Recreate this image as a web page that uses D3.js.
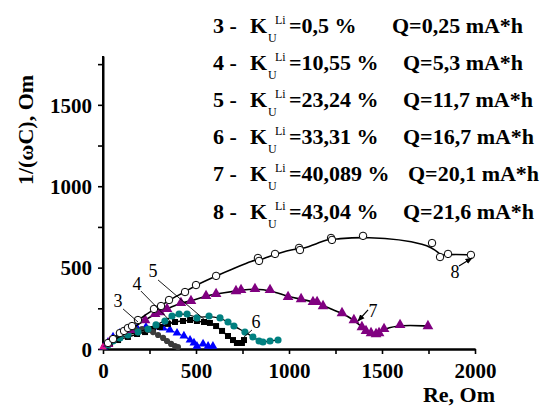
<!DOCTYPE html>
<html>
<head>
<meta charset="utf-8">
<script src="https://cdn.jsdelivr.net/npm/d3@7"></script>
<style>
  body { margin: 0; background: #fff; }
  svg text { font-family: "Liberation Serif", "Times New Roman", serif; }
</style>
</head>
<body>
<div id="chart"></div>
<script>
// ── Data (Re, 1/(ωC)) in Om ──────────────────────────────────
const series3 = [[5,12],[27,37],[59,68],[97,92],[134,111],[172,123],[210,123],[242,117],[269,104],[296,86],[323,68],[344,49],[366,31],[387,18],[403,12]];
const series4 = [[5,12],[27,43],[54,74],[91,98],[134,117],[183,129],[231,135],[280,135],[323,129],[360,117],[398,98],[435,80],[468,55],[489,37],[505,18],[538,31],[565,18],[591,18]];
const series5 = [[16,18],[38,37],[81,55],[134,74],[183,92],[226,104],[269,123],[306,135],[349,154],[387,166],[430,172],[468,178],[505,172],[543,166],[575,160],[608,141],[640,111],[672,80],[699,55],[720,37],[747,37],[758,55]];
const series6 = [[27,25],[54,49],[91,68],[134,86],[188,104],[242,123],[285,148],[333,172],[371,203],[409,215],[452,215],[505,191],[570,203],[629,191],[672,166],[704,141],[763,104],[806,74],[839,49],[860,43],[898,49],[941,55]];
const series7 = [[27,31],[145,117],[226,178],[280,215],[306,227],[344,246],[419,283],[473,295],[554,326],[608,338],[715,356],[742,363],[817,369],[898,363],[995,320],[1065,307],[1129,289],[1151,289],[1183,264],[1285,221],[1349,178],[1392,135],[1414,111],[1441,98],[1468,92],[1484,98],[1511,123],[1597,148],[1747,141]];
const series8 = [[27,37],[54,61],[91,98],[113,111],[134,129],[156,141],[188,178],[274,246],[312,264],[355,301],[441,350],[500,393],[608,449],[833,559],[839,541],[925,584],[1054,621],[1059,608],[1226,682],[1231,670],[1398,695],[1769,651],[1812,565],[1855,584],[1978,578]];
const originPts = [[0,12],[16,25],[27,37],[38,55]];

const xTicks = [0, 500, 1000, 1500, 2000];
const yTicks = [0, 500, 1000, 1500];

const legendNums = ["3", "4", "5", "6", "7", "8"];
const legendK    = ["=0,5 %", "=10,55 %", "=23,24 %", "=33,31 %", "=40,089 %", "=43,04 %"];
const legendQ    = ["Q=0,25 mA*h", "Q=5,3 mA*h", "Q=11,7 mA*h", "Q=16,7 mA*h", "Q=20,1 mA*h", "Q=21,6 mA*h"];

// curve labels: [text, label x, label y, line from, line to, arrow]
const callouts = [
  ["3", 81, 258, [108,246], [188,166], false],
  ["4", 183, 363, [204,356], [382,148], false],
  ["5", 269, 443, [296,424], [548,178], false],
  ["6", 823, 129, [801,117], [753,68], false],
  ["7", 1452, 197, [1425,240], [1371,172], true],
  ["8", 1892, 436, [1914,510], [1984,559], true]
];

// ── Layout ───────────────────────────────────────────────────
const W = 548, H = 406;
const margin = { top: 56, right: 73, bottom: 57, left: 103 };
const iw = W - margin.left - margin.right;
const ih = H - margin.top - margin.bottom;

const svg = d3.select("#chart").append("svg")
  .attr("width", W).attr("height", H);

const defs = svg.append("defs");
defs.append("marker")
  .attr("id", "arrow").attr("viewBox", "0 0 10 10")
  .attr("refX", 9).attr("refY", 5)
  .attr("markerWidth", 6).attr("markerHeight", 6)
  .attr("orient", "auto")
  .append("path").attr("d", "M0,1L10,5L0,9z").attr("fill", "#000");

const g = svg.append("g").attr("transform", `translate(${margin.left},${margin.top})`);

const x = d3.scaleLinear().domain([0, 2000]).range([0, iw]);
const y = d3.scaleLinear().domain([0, 1800]).range([ih, 0]);

// ── Axes ─────────────────────────────────────────────────────
const xAxis = g.append("g").attr("transform", `translate(0,${ih})`);
xAxis.call(d3.axisBottom(x).tickValues(d3.range(0, 2001, 250)).tickFormat("").tickSize(5).tickSizeOuter(0));
xAxis.append("g").call(d3.axisBottom(x).tickValues(xTicks).tickFormat(d3.format("d")).tickSize(0).tickPadding(14).tickSizeOuter(0));

const yAxis = g.append("g");
yAxis.call(d3.axisLeft(y).tickValues(d3.range(0, 1751, 250)).tickFormat("").tickSize(5).tickSizeOuter(0));
yAxis.append("g").call(d3.axisLeft(y).tickValues(yTicks).tickFormat(d3.format("d")).tickSize(0).tickPadding(11).tickSizeOuter(0));

g.selectAll(".domain").attr("stroke", "#000").attr("stroke-width", 2);
g.selectAll(".tick line").attr("stroke", "#000").attr("stroke-width", 1.6);
g.selectAll(".tick text")
  .attr("font-family", "Liberation Serif").attr("font-weight", "bold")
  .attr("font-size", 21).attr("fill", "#000");
yAxis.selectAll(".tick text").attr("dy", "0.35em");
yAxis.select(".domain").attr("d", `M0,${ih}V${y(1800)}`);

svg.append("text")
  .attr("x", 495).attr("y", 402)
  .attr("text-anchor", "end")
  .attr("font-weight", "bold").attr("font-size", 22)
  .text("Re, Om");

svg.append("text")
  .attr("transform", "translate(33,130) rotate(-90)")
  .attr("text-anchor", "middle")
  .attr("font-weight", "bold").attr("font-size", 22)
  .text("1/(ωC), Om");

// ── Series ───────────────────────────────────────────────────
const line = d3.line().x(d => x(d[0])).y(d => y(d[1])).curve(d3.curveBasis);

function drawSeries(data, opt) {
  g.append("path").datum(data)
    .attr("d", line)
    .attr("fill", "none")
    .attr("stroke", opt.lineColor || "#000")
    .attr("stroke-width", opt.lineWidth || 1.5);

  const type = opt.shape === "triangle" ? d3.symbolTriangle
             : opt.shape === "square" ? d3.symbolSquare : d3.symbolCircle;

  g.append("g").selectAll("path").data(data).join("path")
    .attr("transform", d => `translate(${x(d[0])},${y(d[1])})`)
    .attr("d", d3.symbol().type(type).size(opt.size)())
    .attr("fill", opt.fill)
    .attr("stroke", opt.stroke || "none")
    .attr("stroke-width", opt.strokeWidth || 1);
}

drawSeries(series4, { shape: "triangle", size: 34, fill: "#0000ff", lineColor: "#0000ff", lineWidth: 1 });
drawSeries(series5, { shape: "square", size: 36, fill: "#000" });
drawSeries(series3, { shape: "circle", size: 30, fill: "#3c3c3c", lineColor: "#3c3c3c", lineWidth: 1 });
drawSeries(originPts, { shape: "triangle", size: 26, fill: "#e0108a", lineColor: "#e0108a", lineWidth: 1 });
drawSeries(series6, { shape: "circle", size: 40, fill: "#008080", lineWidth: 1.2 });
drawSeries(series7, { shape: "triangle", size: 50, fill: "#800080", lineWidth: 1.6 });
drawSeries(series8, { shape: "circle", size: 44, fill: "#fff", stroke: "#000", strokeWidth: 1, lineWidth: 1.6 });

// ── Curve callouts ───────────────────────────────────────────
callouts.forEach(([t, lx, ly, p0, p1, arrow]) => {
  const ln = g.append("line")
    .attr("x1", x(p0[0])).attr("y1", y(p0[1]))
    .attr("x2", x(p1[0])).attr("y2", y(p1[1]))
    .attr("stroke", "#000").attr("stroke-width", arrow ? 1.2 : 0.9);
  if (arrow) ln.attr("marker-end", "url(#arrow)");
  g.append("text")
    .attr("x", x(lx)).attr("y", y(ly))
    .attr("text-anchor", "middle")
    .attr("font-size", 18)
    .text(t);
});

// ── Legend text ──────────────────────────────────────────────
const qX = [392, 403, 403, 403, 408, 403];
legendNums.forEach((n, i) => {
  const by = 33 + i * 37.1;
  const row = svg.append("g").attr("font-weight", "bold").attr("fill", "#000");
  row.append("text").attr("x", 213).attr("y", by).attr("font-size", 22).text(n + " -");
  row.append("text").attr("x", 250).attr("y", by).attr("font-size", 22).text("K");
  row.append("text").attr("x", 268).attr("y", by + 9).attr("font-size", 12).attr("font-weight", "normal").text("U");
  row.append("text").attr("x", 275).attr("y", by - 9).attr("font-size", 12).attr("font-weight", "normal").text("Li");
  row.append("text").attr("x", 289).attr("y", by).attr("font-size", 22).text(legendK[i]);
  row.append("text").attr("x", qX[i]).attr("y", by).attr("font-size", 22).text(legendQ[i]);
});
</script>
</body>
</html>
